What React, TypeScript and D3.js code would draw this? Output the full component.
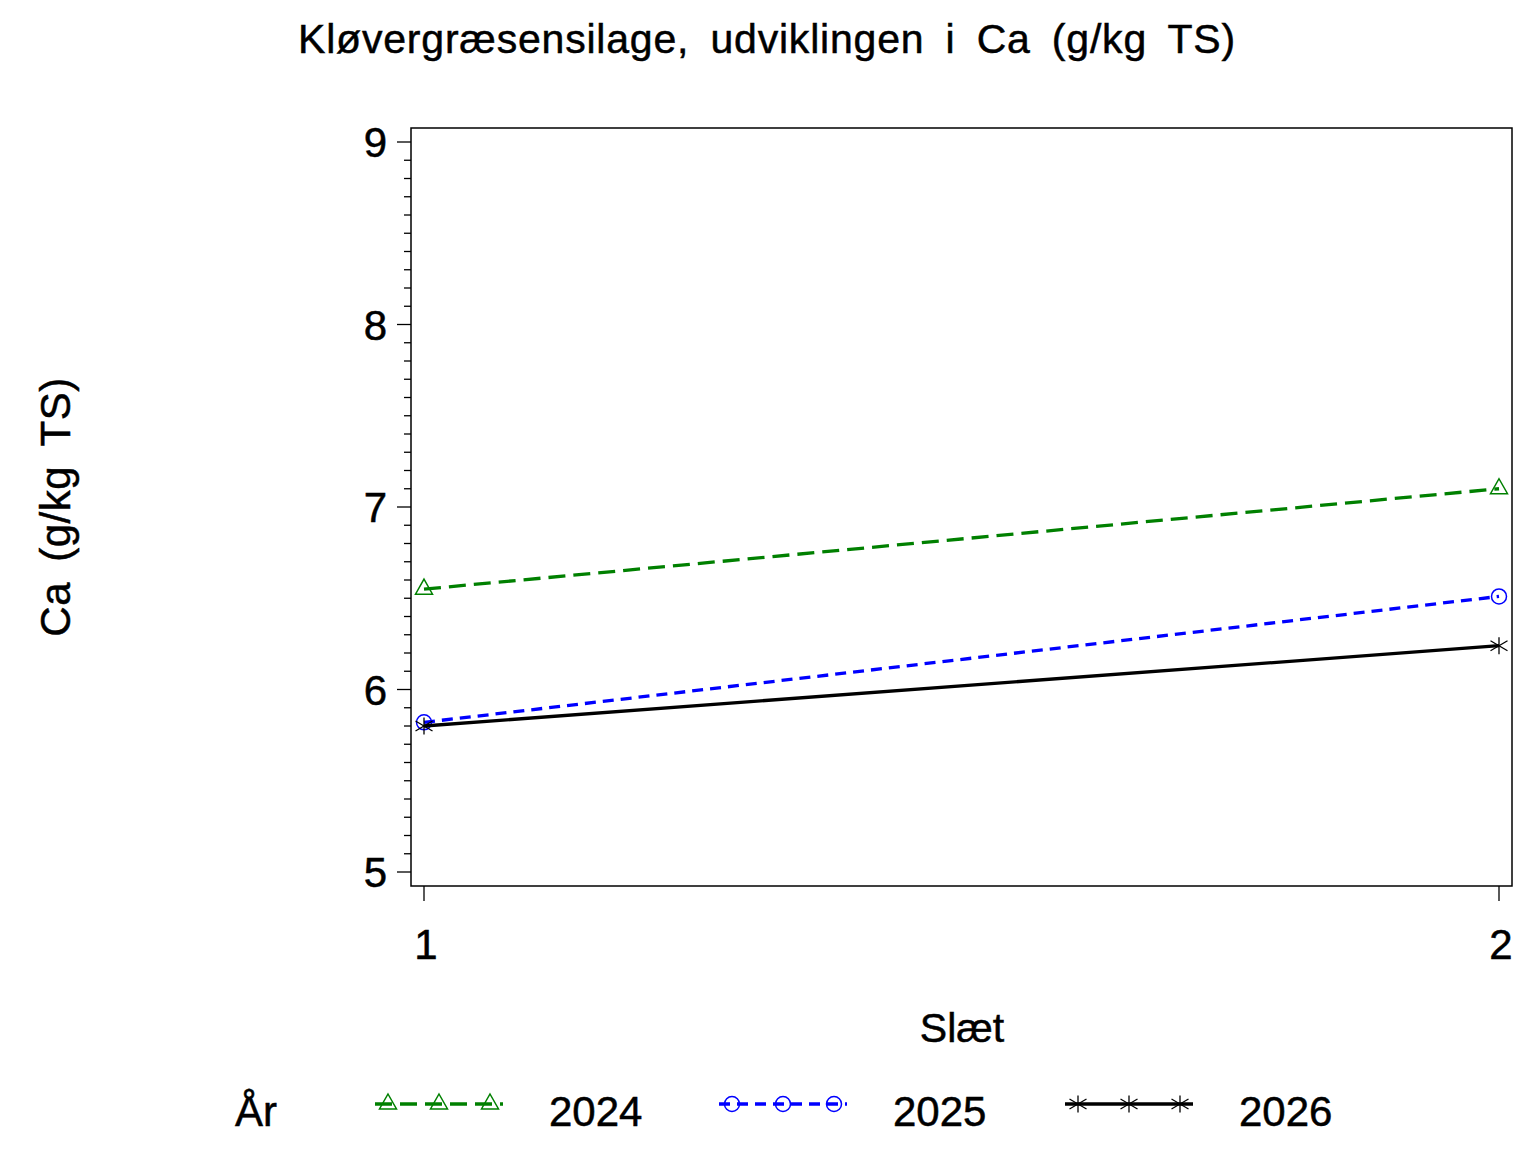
import * as d3 from 'd3';

// data
const slaet = [1, 2];
const years = ['2024', '2025', '2026'];
const ca2024 = [6.55, 7.1];
const ca2025 = [5.82, 6.51];
const ca2026 = [5.8, 6.24];
const yTicks = [5, 6, 7, 8, 9];

const W = 1536;
const H = 1152;
const font = '"Liberation Sans", Arial, sans-serif';

const series = [
  { year: years[0], values: ca2024, color: '#008000', dash: '17 8', marker: 'triangle' },
  { year: years[1], values: ca2025, color: '#0000ff', dash: '11 7', marker: 'circle' },
  { year: years[2], values: ca2026, color: '#000000', dash: '', marker: 'star' },
];

const Marker = ({ type, x, y, color }: { type: string; x: number; y: number; color: string }) => {
  if (type === 'triangle') {
    const p = `M${x},${y - 10} L${x + 8.5},${y + 5} L${x - 8.5},${y + 5} Z`;
    return <path d={p} fill="none" stroke={color} strokeWidth={1.5} />;
  }
  if (type === 'circle') {
    return <circle cx={x} cy={y} r={7.5} fill="none" stroke={color} strokeWidth={1.5} />;
  }
  return (
    <g stroke={color} strokeWidth={1.3}>
      <line x1={x} y1={y - 8.5} x2={x} y2={y + 8.5} />
      <line x1={x - 8.5} y1={y - 5} x2={x + 8.5} y2={y + 5} />
      <line x1={x - 8.5} y1={y + 5} x2={x + 8.5} y2={y - 5} />
    </g>
  );
};

export default function App() {
  const frame = { left: 411, right: 1512, top: 128, bottom: 886 };

  const x = d3.scaleLinear().domain([1, 2]).range([424, 1499]);
  const y = d3.scaleLinear().domain([5, 9]).range([872, 142]);

  const minor = d3.range(50, 91).map((d) => d / 10);

  const line = d3
    .line<number>()
    .x((_, i) => x(slaet[i]))
    .y((d) => y(d));

  const legendX = [375, 719, 1065];
  const legendY = 1104;
  const txt = { stroke: '#000', strokeWidth: 0.5 };

  return (
    <svg width={W} height={H} style={{ display: 'block', marginTop: -8, marginLeft: -8 }} fontFamily={font}>
      <rect width={W} height={H} fill="#fff" />

      <text x={767} y={53} fontSize={41} textAnchor="middle" letterSpacing={0.8} wordSpacing={9} {...txt}>
        Kløvergræsensilage, udviklingen i Ca (g/kg TS)
      </text>

      {/* frame */}
      <rect
        x={frame.left}
        y={frame.top}
        width={frame.right - frame.left}
        height={frame.bottom - frame.top}
        fill="none"
        stroke="#000"
        strokeWidth={1.5}
      />

      {/* y axis */}
      {minor.map((v) => (
        <line
          key={v}
          x1={frame.left}
          x2={Number.isInteger(v) ? frame.left - 14 : frame.left - 7}
          y1={y(v)}
          y2={y(v)}
          stroke="#000"
          strokeWidth={1.3}
        />
      ))}
      {yTicks.map((v) => (
        <text key={v} x={387} y={y(v) + 15} fontSize={42} textAnchor="end" {...txt}>
          {v}
        </text>
      ))}
      <text
        transform={`translate(70, 507) rotate(-90)`}
        fontSize={42}
        textAnchor="middle"
        letterSpacing={0.5}
        wordSpacing={8}
        {...txt}
      >
        Ca (g/kg TS)
      </text>

      {/* x axis */}
      {slaet.map((v) => (
        <g key={v}>
          <line x1={x(v)} x2={x(v)} y1={frame.bottom} y2={frame.bottom + 15} stroke="#000" strokeWidth={1.3} />
          <text x={x(v) + 2} y={959} fontSize={42} textAnchor="middle" {...txt}>
            {v}
          </text>
        </g>
      ))}
      <text x={962} y={1042} fontSize={41} textAnchor="middle" {...txt}>
        Slæt
      </text>

      {/* lines */}
      {series.map((s) => (
        <g key={s.year}>
          <path
            d={line(s.values) ?? ''}
            fill="none"
            stroke={s.color}
            strokeWidth={3.3}
            strokeDasharray={s.dash}
          />
          {s.values.map((v, i) => (
            <Marker key={i} type={s.marker} x={x(slaet[i])} y={y(v)} color={s.color} />
          ))}
        </g>
      ))}

      {/* legend */}
      <text x={235} y={1126} fontSize={42} {...txt}>
        År
      </text>
      {series.map((s, i) => (
        <g key={s.year}>
          <line
            x1={legendX[i]}
            x2={legendX[i] + 128}
            y1={legendY}
            y2={legendY}
            stroke={s.color}
            strokeWidth={3.3}
            strokeDasharray={s.dash}
          />
          {[13, 64, 115].map((dx) => (
            <Marker key={dx} type={s.marker} x={legendX[i] + dx} y={legendY} color={s.color} />
          ))}
          <text x={legendX[i] + 174} y={1126} fontSize={42} {...txt}>
            {s.year}
          </text>
        </g>
      ))}
    </svg>
  );
}
